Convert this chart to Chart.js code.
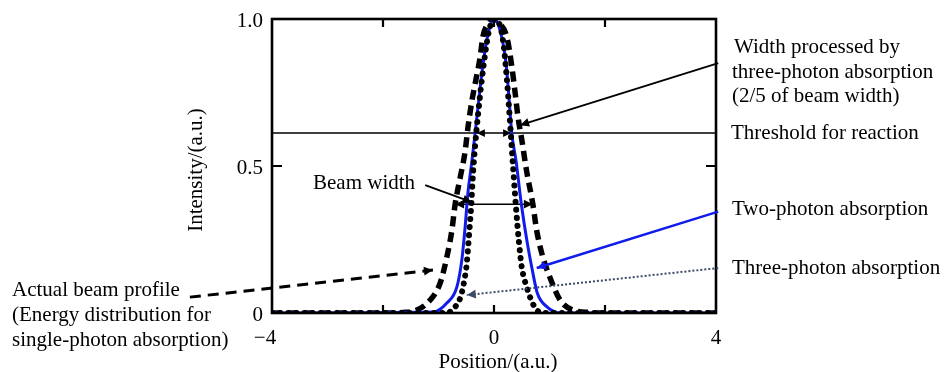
<!DOCTYPE html>
<html>
<head>
<meta charset="utf-8">
<title>Multiphoton absorption beam profile</title>
<script src="https://cdn.jsdelivr.net/npm/chart.js@4.4.1/dist/chart.umd.min.js"></script>
<style>
  html, body { margin: 0; padding: 0; background: #fff; }
  #wrap { width: 944px; height: 372px; }
</style>
</head>
<body>
<div id="wrap"><canvas id="beamChart" width="944" height="372"></canvas></div>
<script>
// Actual beam profile (single-photon absorption)
const beamX = [-4, -2.0, -1.64, -1.39, -1.15, -0.97, -0.85, -0.76, -0.70, -0.61, -0.52, -0.47, -0.40, -0.34, -0.25, -0.20, -0.10, 0,
  0.10, 0.23, 0.32, 0.38, 0.43, 0.50, 0.59, 0.70, 0.77, 0.88, 1.01, 1.19, 1.42, 1.73, 2.0, 4];
const beamY = [0, 0, 0.002, 0.01, 0.044, 0.102, 0.19, 0.28, 0.37, 0.46, 0.55, 0.63, 0.72, 0.78, 0.87, 0.94, 0.985, 1.0,
  0.985, 0.94, 0.84, 0.75, 0.67, 0.59, 0.48, 0.37, 0.28, 0.19, 0.12, 0.044, 0.01, 0.002, 0, 0];

// Two-photon absorption
const twoPhotonX = [-4, -1.1, -0.85, -0.67, -0.58, -0.52, -0.47, -0.40, -0.34, -0.27, -0.20, -0.11, 0,
  0.13, 0.22, 0.27, 0.32, 0.40, 0.49, 0.60, 0.69, 0.78, 0.96, 1.2, 4];
const twoPhotonY = [0, 0.003, 0.034, 0.088, 0.18, 0.293, 0.408, 0.514, 0.612, 0.731, 0.844, 0.946, 1.0,
  0.946, 0.844, 0.731, 0.612, 0.514, 0.374, 0.238, 0.146, 0.068, 0.02, 0, 0];

// Three-photon absorption
const threePhotonX = [-4, -0.85, -0.72, -0.61, -0.54, -0.49, -0.45, -0.41, -0.38, -0.34, -0.29, -0.23, -0.16, -0.09, 0,
  0.12, 0.18, 0.23, 0.27, 0.31, 0.35, 0.40, 0.45, 0.50, 0.59, 0.67, 0.77, 0.90, 4];
const threePhotonY = [0, 0, 0.017, 0.05, 0.105, 0.17, 0.265, 0.367, 0.47, 0.57, 0.67, 0.775, 0.88, 0.96, 1.0,
  0.97, 0.90, 0.80, 0.70, 0.59, 0.48, 0.35, 0.24, 0.156, 0.088, 0.044, 0.01, 0, 0];

const thresholdLevel = 0.612;
const beamWidthLevel = 0.37;
const beamHalfWidth = 0.70;
const processedHalfWidth = 0.31;

const xTickValues = [-2, 0, 2];
const yTickValues = [0.5];
const xTickLabels = [-4, 0, 4];
const yTickLabels = [0, 0.5, 1.0];

const serif = '"Liberation Serif", "DejaVu Serif", serif';
const blue = 'rgb(16, 28, 235)';

function toPoints(xs, ys) {
  return xs.map(function (x, i) { return { x: x, y: ys[i] }; });
}

function arrowHead(ctx, x0, y0, x1, y1, size, color) {
  var a = Math.atan2(y1 - y0, x1 - x0);
  ctx.save();
  ctx.fillStyle = color;
  ctx.setLineDash([]);
  ctx.beginPath();
  ctx.moveTo(x1, y1);
  ctx.lineTo(x1 - size * Math.cos(a - 0.45), y1 - size * Math.sin(a - 0.45));
  ctx.lineTo(x1 - size * Math.cos(a + 0.45), y1 - size * Math.sin(a + 0.45));
  ctx.closePath();
  ctx.fill();
  ctx.restore();
}

// leader lines from the labels to the curves, in axis units
const pointers = [
  { from: [-5.48, 0.054], to: [-1.10, 0.146], color: '#000', width: 3, dash: [11, 7] },
  { from: [-1.24, 0.435], to: [-0.40, 0.377], color: '#000', width: 1.8, dash: [] },
  { from: [4.04, 0.85], to: [0.47, 0.639], color: '#000', width: 1.8, dash: [] },
  { from: [4.04, 0.345], to: [0.77, 0.153], color: blue, width: 2.5, dash: [] },
  { from: [4.04, 0.153], to: [-0.49, 0.061], color: '#3d4a66', width: 2, dash: [2, 2] }
];

const labels = [
  { text: 'Width processed by', x: 734, y: 47 },
  { text: 'three-photon absorption', x: 732, y: 72 },
  { text: '(2/5 of beam width)', x: 732, y: 96 },
  { text: 'Threshold for reaction', x: 731, y: 133 },
  { text: 'Two-photon absorption', x: 732, y: 209 },
  { text: 'Three-photon absorption', x: 732, y: 268 },
  { text: 'Beam width', x: 313, y: 183 },
  { text: 'Actual beam profile', x: 12, y: 290 },
  { text: '(Energy distribution for', x: 12, y: 315 },
  { text: 'single-photon absorption)', x: 12, y: 340 }
];

const overlay = {
  id: 'overlay',
  beforeDatasetsDraw(chart) {
    var ctx = chart.ctx, xs = chart.scales.x, ys = chart.scales.y;
    ctx.save();
    ctx.strokeStyle = '#000';
    ctx.lineWidth = 1.6;
    // threshold across the plot
    ctx.beginPath();
    ctx.moveTo(xs.getPixelForValue(-4), ys.getPixelForValue(thresholdLevel));
    ctx.lineTo(xs.getPixelForValue(4), ys.getPixelForValue(thresholdLevel));
    ctx.stroke();
    // beam width bar
    var by = ys.getPixelForValue(beamWidthLevel);
    var bl = xs.getPixelForValue(-beamHalfWidth), br = xs.getPixelForValue(beamHalfWidth);
    ctx.beginPath();
    ctx.moveTo(bl, by);
    ctx.lineTo(br, by);
    ctx.stroke();
    arrowHead(ctx, bl + 10, by, bl, by, 10, '#000');
    arrowHead(ctx, br - 10, by, br, by, 10, '#000');
    // processed width marks at the threshold
    var ty = ys.getPixelForValue(thresholdLevel);
    var pl = xs.getPixelForValue(-processedHalfWidth), pr = xs.getPixelForValue(processedHalfWidth);
    arrowHead(ctx, pl + 8, ty, pl, ty, 9, '#000');
    arrowHead(ctx, pr - 8, ty, pr, ty, 9, '#000');
    ctx.restore();
  },
  afterDatasetsDraw(chart) {
    var ctx = chart.ctx, xs = chart.scales.x, ys = chart.scales.y, area = chart.chartArea;
    ctx.save();

    // frame and inward ticks
    ctx.strokeStyle = '#000';
    ctx.lineWidth = 2.6;
    ctx.strokeRect(area.left, area.top, area.right - area.left, area.bottom - area.top);
    ctx.lineWidth = 2.2;
    xTickValues.forEach(function (v) {
      var px = xs.getPixelForValue(v);
      ctx.beginPath();
      ctx.moveTo(px, area.bottom); ctx.lineTo(px, area.bottom - 8);
      ctx.moveTo(px, area.top); ctx.lineTo(px, area.top + 8);
      ctx.stroke();
    });
    yTickValues.forEach(function (v) {
      var py = ys.getPixelForValue(v);
      ctx.beginPath();
      ctx.moveTo(area.left, py); ctx.lineTo(area.left + 10, py);
      ctx.moveTo(area.right, py); ctx.lineTo(area.right - 10, py);
      ctx.stroke();
    });

    // leader lines
    pointers.forEach(function (p) {
      var x0 = xs.getPixelForValue(p.from[0]), y0 = ys.getPixelForValue(p.from[1]);
      var x1 = xs.getPixelForValue(p.to[0]), y1 = ys.getPixelForValue(p.to[1]);
      ctx.strokeStyle = p.color;
      ctx.lineWidth = p.width;
      ctx.setLineDash(p.dash);
      ctx.beginPath();
      ctx.moveTo(x0, y0);
      ctx.lineTo(x1, y1);
      ctx.stroke();
      arrowHead(ctx, x0, y0, x1, y1, 10, p.color);
    });
    ctx.setLineDash([]);

    // tick labels
    ctx.fillStyle = '#000';
    ctx.font = '21px ' + serif;
    ctx.textBaseline = 'middle';
    ctx.textAlign = 'right';
    yTickLabels.forEach(function (v) {
      var txt = v === 0 ? '0' : v.toFixed(1);
      ctx.fillText(txt, area.left - 9, ys.getPixelForValue(v) + 2);
    });
    ctx.textAlign = 'center';
    xTickLabels.forEach(function (v) {
      var txt = v < 0 ? '\u2212' + Math.abs(v) : String(v);
      ctx.fillText(txt, xs.getPixelForValue(v) - (v < 0 ? 7 : 0), area.bottom + 25);
    });

    // axis titles
    ctx.fillText('Position/(a.u.)', (area.left + area.right) / 2 + 4, area.bottom + 49);
    ctx.save();
    ctx.translate(area.left - 76, (area.top + area.bottom) / 2 + 4);
    ctx.rotate(-Math.PI / 2);
    ctx.fillText('Intensity/(a.u.)', 0, 0);
    ctx.restore();

    // annotation text
    ctx.textAlign = 'left';
    labels.forEach(function (l) {
      ctx.fillText(l.text, l.x, l.y);
    });
    ctx.restore();
  }
};

var ctx = document.getElementById('beamChart').getContext('2d');
var beamChart = new Chart(ctx, {
  type: 'line',
  data: {
    datasets: [{
      label: 'Actual beam profile',
      data: toPoints(beamX, beamY),
      borderColor: '#000',
      borderWidth: 5.5,
      borderDash: [10, 6],
      cubicInterpolationMode: 'monotone',
      order: 3
    }, {
      label: 'Two-photon absorption',
      data: toPoints(twoPhotonX, twoPhotonY),
      borderColor: blue,
      borderWidth: 3,
      cubicInterpolationMode: 'monotone',
      order: 2
    }, {
      label: 'Three-photon absorption',
      data: toPoints(threePhotonX, threePhotonY),
      borderColor: '#000',
      borderWidth: 6,
      borderDash: [0.1, 8],
      borderCapStyle: 'round',
      cubicInterpolationMode: 'monotone',
      order: 1
    }]
  },
  options: {
    responsive: false,
    animation: false,
    layout: { padding: { left: 272, right: 228, top: 19, bottom: 59 } },
    elements: { point: { radius: 0 } },
    scales: {
      x: { type: 'linear', min: -4, max: 4, display: false },
      y: { min: 0, max: 1, display: false }
    },
    plugins: {
      legend: { display: false },
      tooltip: { enabled: false }
    }
  },
  plugins: [overlay]
});
</script>
</body>
</html>
